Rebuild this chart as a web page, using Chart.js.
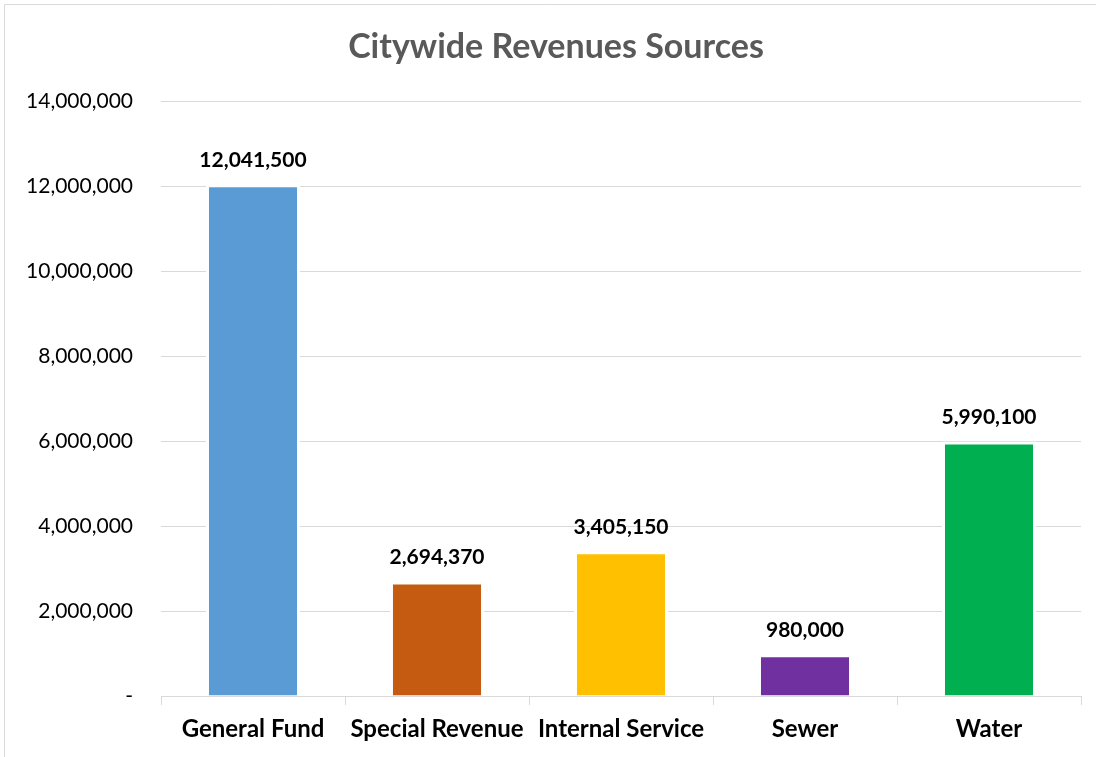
<!DOCTYPE html>
<html>
<head>
<meta charset="utf-8">
<script src="https://cdn.jsdelivr.net/npm/chart.js@4.4.1/dist/chart.umd.min.js"></script>
<style>
  html, body { margin: 0; padding: 0; background: #ffffff; }
  #wrap { position: relative; width: 1096px; height: 757px; }
</style>
</head>
<body>
<div id="wrap"><canvas id="c" width="1096" height="757"></canvas></div>
<script>
const categories = ['General Fund', 'Special Revenue', 'Internal Service', 'Sewer', 'Water'];
const revenues = [12041500, 2694370, 3405150, 980000, 5990100];
const barColors = ['#5b9bd5', '#c55a11', '#ffc000', '#7030a0', '#00b050'];
const yTickValues = [0, 2000000, 4000000, 6000000, 8000000, 10000000, 12000000, 14000000];
const chartTitle = 'Citywide Revenues Sources';

const FONT = 'Lato, "Open Sans", sans-serif';
const fmt = v => v === 0 ? '-' : v.toLocaleString('en-US');

const frame = {
  id: 'frame',
  beforeDraw(chart) {
    const ctx = chart.ctx;
    ctx.save();
    ctx.fillStyle = '#ffffff';
    ctx.fillRect(0, 0, chart.width, chart.height);
    ctx.strokeStyle = '#d9d9d9';
    ctx.lineWidth = 1;
    ctx.beginPath();
    ctx.moveTo(4.5, chart.height + 2);
    ctx.lineTo(4.5, 4.5);
    ctx.lineTo(chart.width + 2, 4.5);
    ctx.stroke();
    ctx.restore();
  },
  afterDraw(chart) {
    const ctx = chart.ctx;
    ctx.save();
    ctx.font = 'bold 34px ' + FONT;
    ctx.fillStyle = '#595959';
    ctx.textAlign = 'center';
    ctx.textBaseline = 'middle';
    ctx.fillText(chartTitle, 556, 47);
    ctx.restore();
  }
};

const valueLabels = {
  id: 'valueLabels',
  afterDatasetsDraw(chart) {
    const ctx = chart.ctx;
    const meta = chart.getDatasetMeta(0);
    ctx.save();
    ctx.font = 'bold 21px ' + FONT;
    ctx.fillStyle = '#000000';
    ctx.textAlign = 'center';
    ctx.textBaseline = 'middle';
    meta.data.forEach((bar, i) => {
      const v = chart.data.datasets[0].data[i];
      ctx.fillText(fmt(v), bar.x, bar.y - 24);
    });
    ctx.restore();
  }
};

new Chart(document.getElementById('c'), {
  type: 'bar',
  data: {
    labels: categories,
    datasets: [{
      data: revenues,
      backgroundColor: barColors,
      borderColor: '#ffffff',
      borderWidth: 3,
      barPercentage: 0.511,
      categoryPercentage: 1.0
    }]
  },
  options: {
    responsive: false,
    animation: false,
    devicePixelRatio: 1,
    layout: { padding: { left: 0, right: 15, top: 101, bottom: 0 } },
    plugins: {
      legend: { display: false },
      tooltip: { enabled: false },
      title: { display: false }
    },
    scales: {
      x: {
        grid: {
          display: true,
          drawOnChartArea: false,
          drawTicks: true,
          tickLength: 9,
          color: '#d9d9d9',
          offset: true
        },
        border: { display: true, color: '#d9d9d9', width: 1 },
        ticks: {
          color: '#000000',
          font: { family: FONT, size: 24, weight: 'bold' },
          padding: 10,
          maxRotation: 0,
          autoSkip: false
        },
        afterFit(scale) { scale.height = 61; }
      },
      y: {
        min: 0,
        max: 14000000,
        afterBuildTicks(scale) { scale.ticks = yTickValues.map(v => ({ value: v })); },
        grid: { color: '#d9d9d9', lineWidth: 1, drawTicks: false },
        border: { display: false },
        ticks: {
          color: '#000000',
          font: { family: FONT, size: 21 },
          padding: 28,
          callback: v => fmt(v)
        },
        afterFit(scale) { scale.width = 161; }
      }
    }
  },
  plugins: [frame, valueLabels]
});
</script>
</body>
</html>
